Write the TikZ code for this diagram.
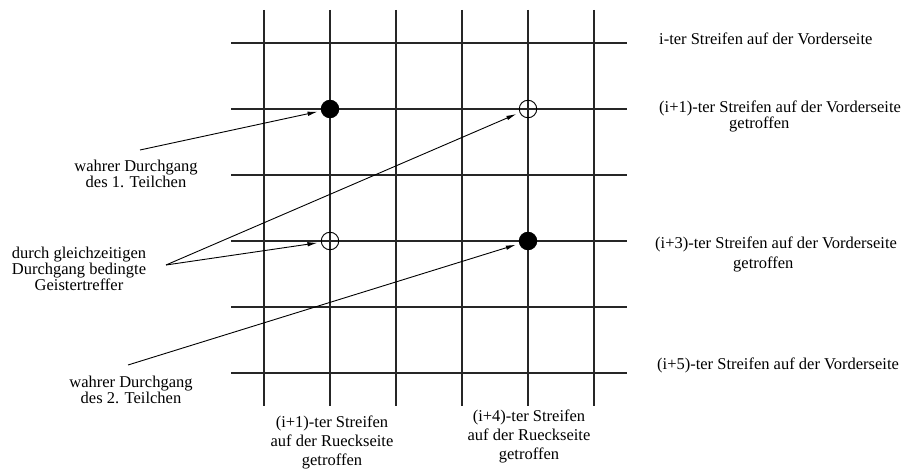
\documentclass[tikz,border=0pt]{standalone}
\usepackage{fontspec}
\setmainfont{Liberation Serif}
\usetikzlibrary{arrows.meta}
\begin{document}
\begin{tikzpicture}[x=1pt,y=-1pt,
  gridline/.style={line width=1.1pt, black!85},
  hit/.style={circle, draw, line width=0.9pt, minimum size=17.5pt, inner sep=0pt},
  realhit/.style={hit, fill=black},
  ghosthit/.style={hit},
  lbl/.style={font=\fontsize{16.5}{16}\selectfont, align=center, inner sep=0pt},
  rlbl/.style={font=\fontsize{16.5}{19}\selectfont, inner sep=0pt, anchor=base west},
  blbl/.style={font=\fontsize{16.5}{19}\selectfont, align=center, inner sep=0pt},
  ptr/.style={line width=0.9pt, -{Latex[length=10pt,width=4.5pt]}, shorten >=3.5pt}]
\useasboundingbox (0,0) rectangle (905,470);
% grid
\foreach \i in {0,...,5} {
  \draw[gridline] (264+66*\i,10) -- (264+66*\i,406);
  \draw[gridline] (231,43+66*\i) -- (627,43+66*\i);
}
% hits
\node[realhit]  (t1) at (330,109) {};
\node[ghosthit] (g1) at (528,109) {};
\node[ghosthit] (g2) at (330,241) {};
\node[realhit]  (t2) at (528,241) {};
% left labels
\node[lbl] (l1) at (136,174) {wahrer Durchgang\\des 1. Teilchen};
\node[lbl] (l2) at (79,269) {durch gleichzeitigen\\Durchgang bedingte\\Geistertreffer};
\node[lbl] (l3) at (131,390) {wahrer Durchgang\\des 2. Teilchen};
\coordinate (s1) at (140,150);
\coordinate (s2) at (166,265);
\coordinate (s3) at (128,365);
\draw[ptr] (s1) -- (t1);
\draw[ptr] (s2) -- (g2);
\draw[ptr] (s2) -- (g1);
\draw[ptr] (s3) -- (t2);
% right labels
\node[rlbl] (r0) at (659,45) {i-ter Streifen auf der Vorderseite};
\node[rlbl] (r1) at (659,113) {(i+1)-ter Streifen auf der Vorderseite};
\node[rlbl] (r1b) at (729,129) {getroffen};
\node[rlbl] (r3) at (655,249) {(i+3)-ter Streifen auf der Vorderseite};
\node[rlbl] (r3b) at (733,269) {getroffen};
\node[rlbl] (r5) at (657,370) {(i+5)-ter Streifen auf der Vorderseite};
% bottom labels
\node[blbl] (b1) at (332,442) {(i+1)-ter Streifen\\auf der Rueckseite\\getroffen};
\node[blbl] (b4) at (529,436) {(i+4)-ter Streifen\\auf der Rueckseite\\getroffen};
\end{tikzpicture}
\end{document}
